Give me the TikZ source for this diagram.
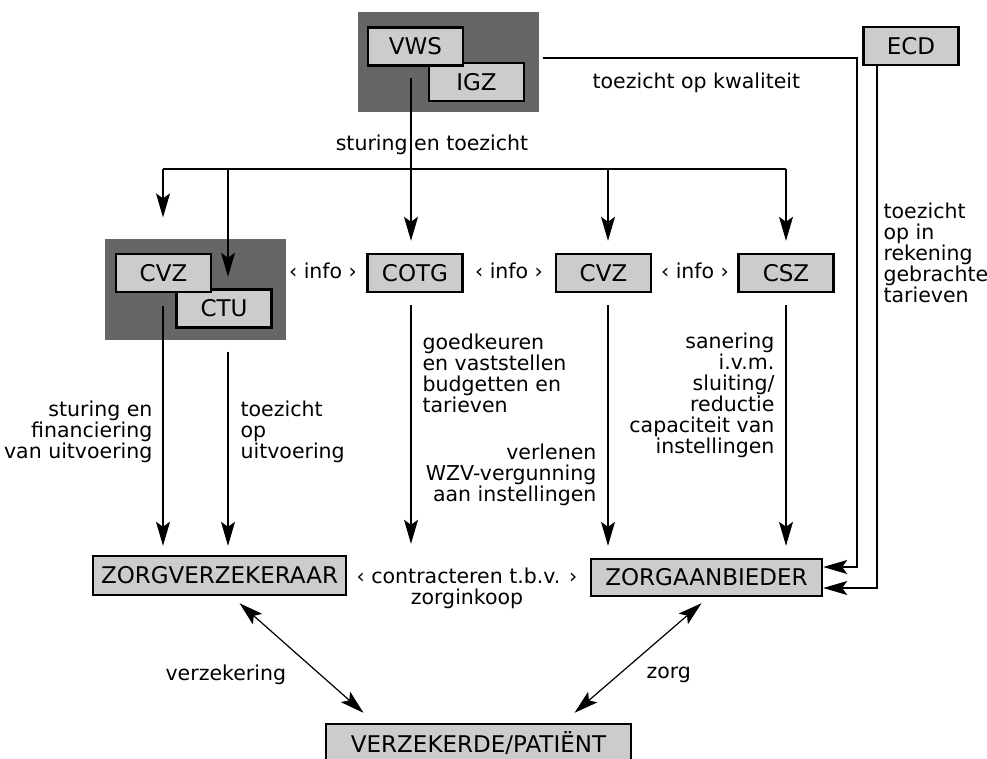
\documentclass[tikz,border=0pt]{standalone}
\usepackage{fontspec}
\setmainfont{DejaVu Sans}
\usepackage{tikz}
\usetikzlibrary{positioning,arrows.meta}
\definecolor{bgdark}{HTML}{666666}
\definecolor{boxfill}{HTML}{CCCCCC}

\begin{document}
\begin{tikzpicture}[x=1pt,y=-1pt,line width=1.2pt,>={Stealth[length=24pt,width=14pt,inset=5pt]}]
\tikzstyle{b}=[draw,line width=2.4pt,fill=boxfill,minimum width=95pt,minimum height=38pt,inner sep=0pt,font=\fontsize{23}{26}\selectfont]
\tikzstyle{bg}=[fill=bgdark,inner sep=0pt]
\tikzstyle{lbl}=[inner sep=0pt,font=\fontsize{20.5}{21}\selectfont]
\useasboundingbox (0,0) rectangle (987,758);
\node[bg,minimum width=181pt,minimum height=100pt] (vwsbg) at (448.5,62) {};
\node[b] (igz) at (476.5,82) {IGZ};
\node[b] (vws) at (415.5,46.5) {VWS};
\node[b] (ecd) at (911,46) {ECD};
\node[bg,minimum width=181pt,minimum height=101pt] (cvzbg) at (195.5,289.5) {};
\node[b] (ctu) at (224,308.5) {CTU};
\node[b] (cvza) at (163.5,273) {CVZ};
\node[b] (cotg) at (415,273) {COTG};
\node[b] (cvzb) at (603.5,273) {CVZ};
\node[b] (csz) at (786,273) {CSZ};
\node[b,minimum width=253pt,minimum height=39pt] (zv) at (219.5,575.5) {ZORGVERZEKERAAR};
\node[b,minimum width=231pt,minimum height=37pt] (za) at (706.5,577.5) {ZORGAANBIEDER};
\node[b,minimum width=305pt,minimum height=38pt] (pat) at (478.5,743) {VERZEKERDE/PATIËNT};
\coordinate (dA) at (163,169);
\coordinate (dB) at (228,169);
\coordinate (dC) at (411,169);
\coordinate (dD) at (608,169);
\coordinate (dE) at (786,169);
\coordinate (kR) at (857,300);
\draw (dA) -- (dE);
\draw[->,shorten >=21pt] (dA) -- (dA |- cvzbg.north);
\draw[->,shorten >=11.5pt] (dB) -- (dB |- ctu.north);
\draw[->,shorten <=11.5pt,shorten >=12pt] (dC |- vws.south) -- (dC |- cotg.north);
\draw[->,shorten >=12pt] (dD) -- (dD |- cvzb.north);
\draw[->,shorten >=12pt] (dE) -- (dE |- csz.north);
\draw[->,shorten <=13pt,shorten >=9pt] (dA |- cvza.south) -- (dA |- zv.north);
\draw[->,shorten <=11pt,shorten >=9pt] (dB |- cvzbg.south) -- (dB |- zv.north);
\draw[->,shorten <=12pt,shorten >=11pt] (dC |- cotg.south) -- (dC |- zv.north);
\draw[->,shorten <=12pt,shorten >=12pt] (dD |- cvzb.south) -- (dD |- za.north);
\draw[->,shorten <=12pt,shorten >=12pt] (dE |- csz.south) -- (dE |- za.north);
\draw[->] ([shift={(3pt,4pt)}]vwsbg.east) -| (kR) |- ([yshift=10.5pt]za.east);
\draw[->] ([xshift=-34pt]ecd.south) |- ([yshift=-10.5pt]za.east);
\draw[<->] ([shift={(20pt,-7pt)}]zv.south) -- ([shift={(-115pt,10pt)}]pat.north);
\draw[<->] ([shift={(-5pt,-6pt)}]za.south) -- ([shift={(96pt,10pt)}]pat.north);
\node[lbl,anchor=base] (lstur) at (432,150) {sturing en toezicht};
\node[lbl,anchor=base west] (lkwal) at (592,88) {toezicht op kwaliteit};
\node[lbl,anchor=base] (info1) at (323,278) {‹ info ›};
\node[lbl,anchor=base] (info2) at (509,278) {‹ info ›};
\node[lbl,anchor=base] (info3) at (695,278) {‹ info ›};
\node[lbl,anchor=north east,align=right] (lfin) at (153,400) {sturing en\\financiering\\van uitvoering};
\node[lbl,anchor=north west,align=left] (ltoe) at (240,400) {toezicht\\op\\uitvoering};
\node[lbl,anchor=north west,align=left] (lgoed) at (422,333) {goedkeuren\\en vaststellen\\budgetten en\\tarieven};
\node[lbl,anchor=north east,align=right] (lverl) at (597,443) {verlenen\\WZV-vergunning\\aan instellingen};
\node[lbl,anchor=north east,align=right] (lsan) at (775,332) {sanering\\i.v.m.\\sluiting/\\reductie\\capaciteit van\\instellingen};
\node[lbl,anchor=north west,align=left] (ltar) at (883,202) {toezicht\\op in\\rekening\\gebrachte\\tarieven};
\node[lbl,anchor=north,align=center] (lcon) at (467,567) {‹ contracteren t.b.v. ›\\zorginkoop};
\node[lbl,anchor=base west] (lverz) at (165,680) {verzekering};
\node[lbl,anchor=base west] (lzorg) at (646,678) {zorg};
\end{tikzpicture}
\end{document}
